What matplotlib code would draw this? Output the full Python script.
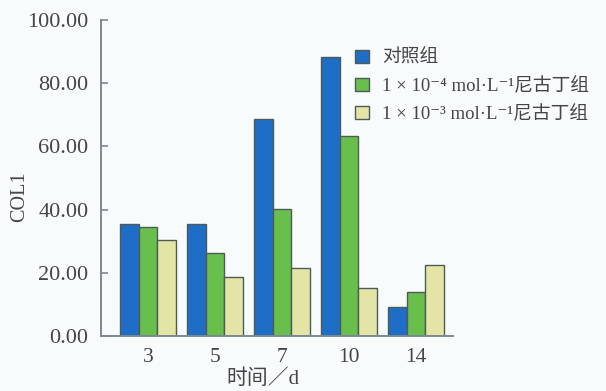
import matplotlib
matplotlib.use("Agg")
import matplotlib.pyplot as plt
import numpy as np

plt.rcParams['font.family'] = ['Liberation Serif', 'DejaVu Serif', 'Noto Sans CJK SC']

days = ['3', '5', '7', '10', '14']
control = [35.5, 35.6, 68.8, 88.4, 9.2]
nic_low = [34.6, 26.4, 40.3, 63.2, 13.8]
nic_high = [30.4, 18.8, 21.5, 15.1, 22.5]
series_labels = ['对照组',
                 '1 × 10⁻⁴ mol·L⁻¹尼古丁组',
                 '1 × 10⁻³ mol·L⁻¹尼古丁组']
colors = ['#1e6ec8', '#68bf4c', '#e2e5a6']
yticks = [0, 20, 40, 60, 80, 100]

bg = '#f8fbfc'
axis_color = '#7d8891'
text_color = '#454545'

fig = plt.figure(figsize=(6.06, 3.91), dpi=100, facecolor=bg)
ax = fig.add_axes([101 / 606, 1 - 336 / 391, 352 / 606, 316 / 391])
ax.set_facecolor(bg)

x = np.arange(len(days))
w = 0.277
for i, (vals, c, lab) in enumerate(zip([control, nic_low, nic_high], colors, series_labels)):
    ax.bar(x + (i - 1) * w, vals, width=w, color=c, edgecolor='#4d5a57',
           linewidth=1.0, label=lab)

ax.set_ylim(0, 100)
ax.set_xlim(-0.7, 4.55)
ax.set_yticks(yticks)
ax.set_yticklabels([f'{v:.2f}' for v in yticks])
ax.set_xticks(x)
ax.set_xticklabels(days)

for s in ['top', 'right']:
    ax.spines[s].set_visible(False)
for s in ['left', 'bottom']:
    ax.spines[s].set_color(axis_color)
    ax.spines[s].set_linewidth(1.4)

ax.tick_params(axis='y', direction='in', length=5, width=1.2, color=axis_color,
               labelsize=16, labelcolor=text_color, pad=9)
ax.tick_params(axis='x', length=0, labelsize=15.5, labelcolor=text_color, pad=9)

ax.set_ylabel('COL1', fontsize=14.5, color=text_color)
ax.yaxis.set_label_coords(-0.205, 0.44)
ax.set_xlabel('时间／d', fontsize=15, color=text_color)
ax.xaxis.set_label_coords(0.46, -0.106)

leg = ax.legend(loc='upper left', bbox_to_anchor=(246 / 352, 1 - 22 / 316),
                frameon=False, fontsize=13.5, handlelength=0.75, handleheight=0.75,
                handletextpad=0.7, labelspacing=0.55, borderaxespad=0)
for t in leg.get_texts():
    t.set_color(text_color)

fig.savefig('out.png', dpi=100, facecolor=bg)
